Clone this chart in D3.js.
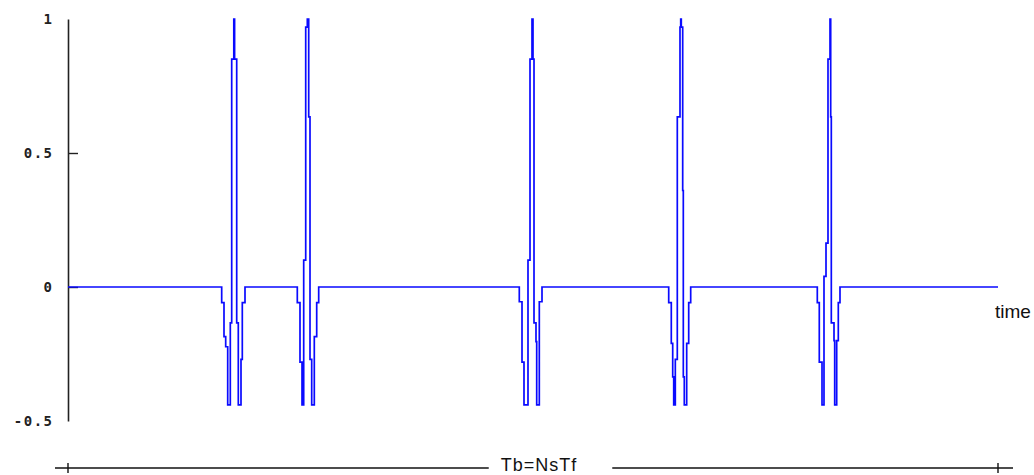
<!DOCTYPE html>
<html>
<head>
<meta charset="utf-8">
<script src="https://cdn.jsdelivr.net/npm/d3@7"></script>
<style>
  html, body { margin: 0; padding: 0; background: #fff; }
  svg { display: block; }
</style>
</head>
<body>
<svg id="chart" width="1034" height="475"></svg>
<script>
// One bit period Tb = Ns * Tf (ns); amplitude normalised to the pulse peak.
const bitPeriod = 500;
const yTicks = [-0.5, 0, 0.5, 1];
const yTickLabels = ["-0.5", "0", "0.5", "1"];
const timeLabel = "time";
const bitLabel = "Tb=NsTf";

// Sample times (ns) of the five time-hopped pulses inside the bit.
const pulseTimes = [
  [82.63, 83.87, 84.78, 85.86, 87.26, 88.01, 89.14, 89.57, 90.70, 91.56, 93.01, 93.71, 95.16],
  [123.28, 124.73, 125.81, 126.72, 127.80, 128.66, 129.41, 130.11, 131.02, 132.42, 133.71, 134.78],
  [242.63, 244.09, 245.16, 247.31, 248.39, 249.46, 250.00, 250.54, 251.61, 251.99, 253.39, 254.84],
  [322.96, 324.35, 325.11, 325.65, 326.51, 327.58, 329.03, 329.41, 329.73, 330.48, 330.81, 331.34, 332.63, 333.71, 334.78],
  [402.85, 403.92, 405.38, 406.45, 407.53, 408.60, 409.68, 410.05, 410.38, 411.83, 412.20, 413.28, 414.14, 415.05]
];
// Matching amplitudes of each pulse sample.
const pulseValues = [
  [-0.058, -0.185, -0.223, -0.44, -0.134, 0.85, 1.0, 0.85, -0.134, -0.44, -0.27, -0.058, 0],
  [-0.058, -0.28, -0.44, 0.10, 0.97, 1.0, 0.635, -0.27, -0.44, -0.185, -0.058, 0],
  [-0.055, -0.28, -0.44, 0.10, 0.85, 1.0, 0.85, -0.134, -0.204, -0.44, -0.055, 0],
  [-0.058, -0.21, -0.335, -0.44, -0.27, 0.635, 0.97, 1.0, 0.97, 0.36, -0.335, -0.44, -0.21, -0.058, 0],
  [-0.058, -0.28, -0.44, 0.04, 0.164, 0.85, 1.0, 0.635, -0.134, -0.2, -0.44, -0.2, -0.058, 0]
];

const width = 1034, height = 475;
const margin = { top: 19, right: 36, bottom: 54, left: 68 };

const svg = d3.select("#chart");
svg.append("rect").attr("width", width).attr("height", height).attr("fill", "#fff");

const x = d3.scaleLinear().domain([0, bitPeriod]).range([margin.left, width - margin.right]);
const y = d3.scaleLinear().domain([-0.5, 1]).range([height - margin.bottom, margin.top]);

// Build the full waveform: flat at zero between pulses.
const wave = [{ t: 0, v: 0 }];
pulseTimes.forEach((ts, p) => {
  ts.forEach((t, i) => wave.push({ t, v: pulseValues[p][i] }));
});
wave.push({ t: bitPeriod, v: 0 });

// Amplitude axis
const yAxis = d3.axisLeft(y)
  .tickValues(yTicks)
  .tickFormat((d, i) => yTickLabels[i])
  .tickSizeOuter(0)
  .tickSizeInner(0)
  .tickPadding(14.5);

const gy = svg.append("g")
  .attr("transform", `translate(${margin.left},0)`)
  .call(yAxis);
gy.select(".domain").attr("stroke", "#222").attr("stroke-width", 1.6);
gy.selectAll(".tick line")
  .attr("stroke", "#222")
  .attr("stroke-width", 1.4)
  .attr("x2", d => (d > -0.5 && d < 1) ? 10 : 0);
gy.selectAll(".tick text")
  .attr("fill", "#222")
  .style("font-family", "'DejaVu Sans Mono', monospace")
  .style("font-weight", "bold")
  .style("font-size", "14px")
  .style("letter-spacing", "1.5px");

// Waveform
svg.append("path")
  .datum(wave)
  .attr("fill", "none")
  .attr("stroke", "#0a0aff")
  .attr("stroke-width", 1.7)
  .attr("d", d3.line()
    .x(d => x(d.t))
    .y(d => y(d.v))
    .curve(d3.curveStepAfter));

// Horizontal axis name
svg.append("text")
  .attr("x", x(bitPeriod) - 3)
  .attr("y", y(0) + 31)
  .attr("fill", "#111")
  .style("font-family", "'Liberation Sans', Arial, sans-serif")
  .style("font-size", "19px")
  .text(timeLabel);

// Bit-period span marker below the plot
const spanY = 468;
const labelX = x(bitPeriod / 2) + 6;
const spanLabel = svg.append("text")
  .attr("x", labelX)
  .attr("y", spanY + 2.5)
  .attr("text-anchor", "middle")
  .attr("fill", "#111")
  .style("font-family", "'Liberation Sans', Arial, sans-serif")
  .style("font-size", "18px")
  .style("letter-spacing", "1px")
  .text(bitLabel);
const lw = spanLabel.node().getComputedTextLength();

const span = svg.append("g").attr("stroke", "#111").attr("stroke-width", 1.4);
span.append("line")
  .attr("x1", x(0) - 13).attr("x2", labelX - lw / 2 - 12)
  .attr("y1", spanY).attr("y2", spanY);
span.append("line")
  .attr("x1", labelX + lw / 2 + 35).attr("x2", x(bitPeriod) + 15)
  .attr("y1", spanY).attr("y2", spanY);
[0, bitPeriod].forEach(t => {
  span.append("line")
    .attr("x1", x(t)).attr("x2", x(t))
    .attr("y1", spanY - 5).attr("y2", spanY + 5);
});
</script>
</body>
</html>
